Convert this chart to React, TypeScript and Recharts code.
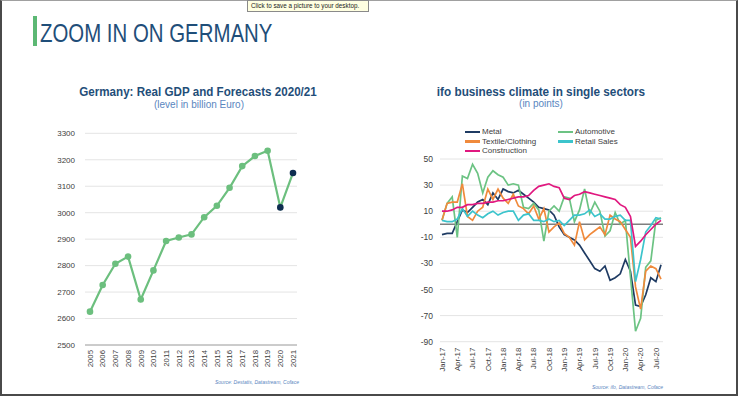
import { LineChart, Line, XAxis, YAxis, CartesianGrid, ReferenceLine, Legend } from 'recharts';

const FONT = '"Liberation Sans", Arial, sans-serif';
const NAVY_TITLE = '#1f4e79';
const SUB = '#5a86c0';

// left chart: real GDP
const years = ['2005', '2006', '2007', '2008', '2009', '2010', '2011', '2012', '2013', '2014', '2015', '2016', '2017', '2018', '2019', '2020', '2021'];
const gdp = [2626, 2727, 2807, 2834, 2672, 2782, 2893, 2906, 2918, 2983, 3026, 3094, 3176, 3214, 3234, 3020, 3150];
const forecastYears = ['2020', '2021'];
const gdpTicks = [2500, 2600, 2700, 2800, 2900, 3000, 3100, 3200, 3300];

// right chart: ifo business climate
const months = [
  'Jan-17', 'Feb-17', 'Mar-17', 'Apr-17', 'May-17', 'Jun-17', 'Jul-17', 'Aug-17', 'Sep-17', 'Oct-17', 'Nov-17', 'Dec-17',
  'Jan-18', 'Feb-18', 'Mar-18', 'Apr-18', 'May-18', 'Jun-18', 'Jul-18', 'Aug-18', 'Sep-18', 'Oct-18', 'Nov-18', 'Dec-18',
  'Jan-19', 'Feb-19', 'Mar-19', 'Apr-19', 'May-19', 'Jun-19', 'Jul-19', 'Aug-19', 'Sep-19', 'Oct-19', 'Nov-19', 'Dec-19',
  'Jan-20', 'Feb-20', 'Mar-20', 'Apr-20', 'May-20', 'Jun-20', 'Jul-20', 'Aug-20',
];
const metal = [-8, -7, -7, 2, 11, 9, 13, 17, 19, 15, 24, 19, 27, 25, 24, 26, 23, 20, 17, 13, 12, 11, 7, -2, -8, -10, -12, -16, -22, -28, -34, -36, -32, -43, -41, -38, -27, -36, -62, -63, -54, -41, -44, -31];
const automotive = [3, 16, 21, -10, 37, 35, 46, 39, 24, 36, 41, 38, 36, 30, 31, 30, 13, 12, 16, 11, -13, 10, 14, 10, 21, 20, 2, 11, 27, 8, 17, 10, -9, -5, 9, 0, 3, -40, -82, -72, -33, -28, 3, 5];
const textile = [3, 16, 17, 17, 31, 6, 3, 10, 13, 27, 19, 27, 20, 16, 23, 14, 12, 8, 14, 4, 12, -6, -2, 1, -7, -10, -16, 2, -12, -8, -5, -2, -8, 7, 4, 2, -4, -10, -48, -65, -36, -32, -34, -42];
const retail = [3, 2, 2, 4, 12, 6, 10, 7, 5, 8, 10, 7, 9, 10, 10, 3, 7, 8, 3, 3, 2, 4, 2, 3, -1, 3, 7, 7, 8, 11, 6, 8, 4, 4, 6, 7, 3, 3, -44, -27, -6, -1, 5, 4];
const construction = [10, 10, 11, 13, 13, 15, 15, 16, 16, 17, 17, 18, 18, 19, 20, 21, 21, 22, 26, 29, 30, 31, 29, 28, 20, 19, 22, 23, 25, 24, 23, 22, 21, 20, 19, 15, 13, 6, -17, -13, -8, -4, 0, 3];
const ifoTicks = [-90, -70, -50, -30, -10, 10, 30, 50];
const legendOrder = ['Metal', 'Automotive', 'Textile/Clothing', 'Retail Sales', 'Construction'];

const gdpData = years.map((year, i) => ({ year, gdp: gdp[i] }));
const ifoData = months.map((month, i) => ({
  month,
  metal: metal[i],
  automotive: automotive[i],
  textile: textile[i],
  retail: retail[i],
  construction: construction[i],
}));

const VTick = ({ x, y, payload }: any) => (
  <text x={x} y={y} dy={2.8} transform={`rotate(-90 ${x} ${y})`} textAnchor="end" fontSize={7.8} fill="#404040" fontFamily={FONT}>
    {payload.value}
  </text>
);

const gdpDot = (p: any) => (
  <circle key={`d${p.index}`} cx={p.cx} cy={p.cy} r={3.3} fill={forecastYears.includes(p.payload.year) ? '#0e2d50' : '#6cbf7e'} />
);

const ifoLegend = (props: any) => {
  const items = [...props.payload].sort((a: any, b: any) => legendOrder.indexOf(a.value) - legendOrder.indexOf(b.value));
  return (
    <div style={{ display: 'grid', gridTemplateColumns: '93px 93px', fontFamily: FONT, fontSize: 8, lineHeight: '9.5px', color: '#404040' }}>
      {items.map((e: any) => (
        <div key={e.value} style={{ display: 'flex', alignItems: 'center', whiteSpace: 'nowrap' }}>
          <span style={{ width: 15, height: 2.5, background: e.color, marginRight: 2, display: 'inline-block' }} />
          {e.value}
        </div>
      ))}
    </div>
  );
};

const abs = (s: any) => ({ position: 'absolute' as const, ...s });

export default function App() {
  return (
    <div style={abs({ left: 0, top: 0, width: 740, height: 397, background: '#fff', overflow: 'hidden', fontFamily: FONT })}>
      <div style={abs({ left: 0, top: 0, width: 738, height: 396, boxSizing: 'border-box', borderLeft: '2px solid #4a4a4a', borderRight: '2px solid #4a4a4a', borderBottom: '2px solid #4a4a4a', borderTop: '1px solid #a0a0a0' })} />
      <div style={abs({ left: 247, top: 0, width: 122, height: 12, boxSizing: 'border-box', background: '#ffffe1', border: '1px solid #8a8a8a', fontSize: 6.3, lineHeight: '10px', paddingLeft: 3, color: '#222', whiteSpace: 'nowrap' })}>
        Click to save a picture to your desktop.
      </div>

      <div style={abs({ left: 33, top: 16, width: 4, height: 30, background: '#5cb874' })} />
      <div style={abs({ left: 40, top: 20.7, fontSize: 25.5, lineHeight: 1, color: NAVY_TITLE, whiteSpace: 'nowrap', transform: 'scaleX(0.8)', transformOrigin: 'left' })}>
        ZOOM IN ON GERMANY
      </div>

      <div style={abs({ left: -2, top: 86, width: 400, textAlign: 'center', fontSize: 12.5, fontWeight: 'bold', lineHeight: 1, color: NAVY_TITLE, whiteSpace: 'nowrap', transform: 'scaleX(0.93)' })}>
        Germany: Real GDP and Forecasts 2020/21
      </div>
      <div style={abs({ left: -1, top: 100, width: 400, textAlign: 'center', fontSize: 10, lineHeight: 1, color: SUB, whiteSpace: 'nowrap' })}>
        (level in billion Euro)
      </div>
      <div style={abs({ left: 341, top: 85.5, width: 400, textAlign: 'center', fontSize: 12.5, fontWeight: 'bold', lineHeight: 1, color: NAVY_TITLE, whiteSpace: 'nowrap', transform: 'scaleX(0.94)' })}>
        ifo business climate in single sectors
      </div>
      <div style={abs({ left: 341, top: 99, width: 400, textAlign: 'center', fontSize: 10, lineHeight: 1, color: SUB, whiteSpace: 'nowrap' })}>
        (in points)
      </div>

      <div style={abs({ left: 0, top: 120 })}>
        <LineChart width={320} height={277} data={gdpData} margin={{ top: 13.3, right: 23, bottom: 12, left: 10 }}>
          <CartesianGrid vertical={false} stroke="#e4e4e4" />
          <XAxis dataKey="year" interval={0} height={40} padding={{ left: 5, right: 4 }} stroke="#a6a6a6" tickLine={false} tickSize={0} tickMargin={5} tick={<VTick />} />
          <YAxis domain={[2500, 3300]} ticks={gdpTicks} width={75} axisLine={false} tickLine={false} tickSize={0} tickMargin={10} tick={{ fontSize: 8, fill: '#404040', fontFamily: FONT }} />
          <Line dataKey="gdp" stroke="#6cbf7e" strokeWidth={2.2} dot={gdpDot} isAnimationActive={false} />
        </LineChart>
      </div>

      <div style={abs({ left: 370, top: 120 })}>
        <LineChart width={370} height={277} data={ifoData} margin={{ top: 39, right: 77, bottom: 15.3, left: 10 }}>
          <CartesianGrid vertical={false} stroke="#e4e4e4" />
          <XAxis dataKey="month" interval={2} height={40} padding={{ left: 2, right: 2 }} axisLine={false} tickLine={false} tickSize={0} tickMargin={6} tick={<VTick />} />
          <YAxis domain={[-90, 50]} ticks={ifoTicks} width={60} axisLine={false} tickLine={false} tickSize={0} tickMargin={7} tick={{ fontSize: 8.5, fill: '#404040', fontFamily: FONT }} />
          <ReferenceLine y={0} stroke="#7f7f7f" strokeWidth={1.5} />
          <Legend layout="horizontal" verticalAlign="middle" align="center" content={ifoLegend} wrapperStyle={{ top: 7.25, left: 95, width: 200, height: 30 }} />
          <Line dataKey="metal" name="Metal" stroke="#1f3b63" strokeWidth={1.7} dot={false} isAnimationActive={false} />
          <Line dataKey="automotive" name="Automotive" stroke="#6cc383" strokeWidth={1.7} dot={false} isAnimationActive={false} />
          <Line dataKey="textile" name="Textile/Clothing" stroke="#f08a3c" strokeWidth={1.7} dot={false} isAnimationActive={false} />
          <Line dataKey="retail" name="Retail Sales" stroke="#3cc4cc" strokeWidth={1.7} dot={false} isAnimationActive={false} />
          <Line dataKey="construction" name="Construction" stroke="#e0187f" strokeWidth={1.7} dot={false} isAnimationActive={false} />
        </LineChart>
      </div>

      <div style={abs({ left: 215, top: 379, fontSize: 5, fontStyle: 'italic', color: SUB, whiteSpace: 'nowrap' })}>
        Source: Destatis, Datastream, Coface
      </div>
      <div style={abs({ left: 592, top: 384, fontSize: 5, fontStyle: 'italic', color: SUB, whiteSpace: 'nowrap' })}>
        Source: ifo, Datastream, Coface
      </div>
    </div>
  );
}
